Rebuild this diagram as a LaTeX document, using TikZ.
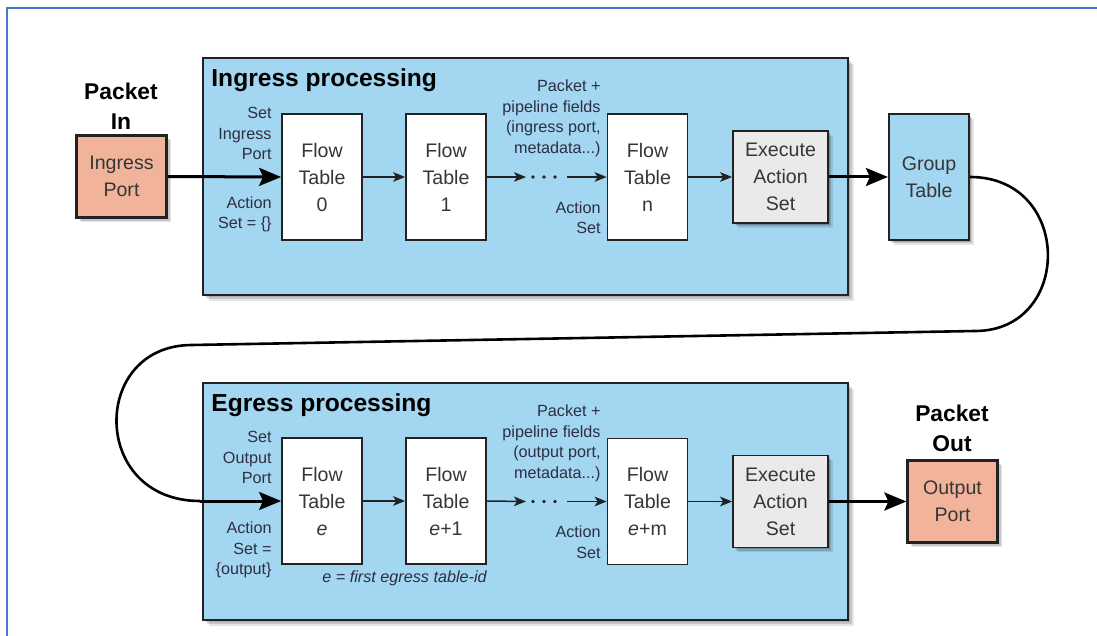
\documentclass[tikz,border=0pt]{standalone}
\usepackage{fontspec}
\setmainfont{Liberation Sans}
\usetikzlibrary{arrows.meta,shadows}

\definecolor{procblue}{HTML}{A3D6F0}
\definecolor{portred}{HTML}{F1B49B}
\definecolor{execgrey}{HTML}{EAEAEA}
\definecolor{maintxt}{HTML}{363636}
\definecolor{labeltxt}{HTML}{2E2E44}
\definecolor{framecol}{HTML}{4A78D0}
\definecolor{edgecol}{HTML}{222222}

\newcommand{\fsMain}{\fontsize{9.8}{13.5}\selectfont}
\newcommand{\fsLabel}{\fontsize{8.1}{10.25}\selectfont}
\newcommand{\fsHead}{\fontsize{11.4}{15}\selectfont\bfseries}
\newcommand{\fsTitle}{\fontsize{12.3}{14}\selectfont\bfseries}

\begin{document}
\begin{tikzpicture}[x=0.5pt,y=-0.5pt,
  % soft shadow built from stacked translucent copies
  boxshadow/.style={
    drop shadow={shadow xshift=0.8pt,shadow yshift=-0.8pt,opacity=0.14,fill=black},
    drop shadow={shadow xshift=1.6pt,shadow yshift=-1.6pt,opacity=0.14,fill=black},
    drop shadow={shadow xshift=2.4pt,shadow yshift=-2.4pt,opacity=0.10,fill=black}},
  stageshadow/.style={
    drop shadow={shadow xshift=1pt,shadow yshift=-1pt,opacity=0.14,fill=black},
    drop shadow={shadow xshift=2pt,shadow yshift=-2pt,opacity=0.14,fill=black},
    drop shadow={shadow xshift=3pt,shadow yshift=-3pt,opacity=0.10,fill=black}},
  stage/.style={draw=edgecol,line width=1.3pt,fill=procblue,inner sep=0pt,stageshadow,
    minimum width=322.5pt,minimum height=118.5pt},
  flowtab/.style={draw=edgecol,line width=0.9pt,fill=white,inner sep=0pt,
    minimum width=40pt,minimum height=63pt,align=center,font=\fsMain,text=maintxt},
  execbox/.style={draw=edgecol,line width=0.9pt,fill=execgrey,inner sep=0pt,boxshadow,
    minimum width=47.5pt,minimum height=46pt,align=center,font=\fsMain,text=maintxt},
  groupbox/.style={draw=edgecol,line width=1.1pt,fill=procblue,inner sep=0pt,boxshadow,
    minimum width=40pt,minimum height=63pt,align=center,font=\fsMain,text=maintxt},
  portbox/.style={draw=edgecol,line width=1.1pt,fill=portred,inner sep=0pt,boxshadow,
    minimum width=45pt,minimum height=41pt,align=center,font=\fsMain,text=maintxt},
  heading/.style={align=center,font=\fsHead,text=black,inner sep=0pt},
  stagetitle/.style={anchor=west,font=\fsTitle,text=black,inner sep=0pt},
  note/.style={anchor=east,align=right,font=\fsLabel,text=labeltxt,inner sep=0pt},
  thin/.style={draw=edgecol,line width=0.75pt,-{Stealth[length=6pt,width=4.8pt,inset=1.5pt]}},
  thick/.style={draw=black,line width=1.5pt,-{Stealth[length=11pt,width=9pt,inset=2pt]}},
  loopline/.style={draw=black,line width=1.3pt}
]
\useasboundingbox (0,0) rectangle (1097,636);

% page frame
\draw[framecol,line width=1.2pt] (7,636) -- (7,8) -- (1097,8);

% processing stages
\node[stage] (ingress) at (525.5,176.5) {};
\node[stage] (egress) at (525.5,501.5) {};
\node[stagetitle] (ingtitle) at (211,80) {Ingress processing};
\node[stagetitle] (egrtitle) at (211,405) {Egress processing};

% ingress pipeline
\node[heading] (pin) at (121,106) {Packet\\In};
\node[portbox] (inport) at (121.5,176.5) {Ingress\\Port};
\node[flowtab] (ft0) at (322,177) {Flow\\Table\\0};
\node[flowtab] (ft1) at (446,177) {Flow\\Table\\1};
\node[flowtab] (ftn) at (647.5,177) {Flow\\Table\\n};
\node[execbox] (exin) at (780.5,177) {Execute\\Action\\Set};
\node[groupbox] (grp) at (929,177) {Group\\Table};

\node[note] (setin) at (272,133.5) {Set\\Ingress\\Port};
\node[note] (actin) at (272,214.5) {Action\\Set = \{\}};
\node[note] (fieldsin) at (601,118.5) {Packet +\\pipeline fields\\(ingress port,\\metadata...)};
\node[note] (actn) at (601,217.5) {Action\\Set};

% egress pipeline
\node[heading] (pout) at (952,428.5) {Packet\\Out};
\node[flowtab] (fte) at (322,501) {Flow\\Table\\\textit{e}};
\node[flowtab] (fte1) at (446,501) {Flow\\Table\\\textit{e}+1};
\node[flowtab] (ftem) at (647.5,501.5) {Flow\\Table\\\textit{e}+m};
\node[execbox] (exout) at (780.5,501.5) {Execute\\Action\\Set};
\node[portbox] (outport) at (952.5,501.5) {Output\\Port};

\node[note] (setout) at (272,457.5) {Set\\Output\\Port};
\node[note] (actout) at (272,550) {Action\\Set =\\\{output\}};
\node[note] (fieldsout) at (601,443.5) {Packet +\\pipeline fields\\(output port,\\metadata...)};
\node[note] (actm) at (601,542) {Action\\Set};
\node[anchor=west,font=\fsLabel\itshape,text=labeltxt,inner sep=0pt] (eid) at (322,578) {e = first egress table-id};

% ellipsis between tables
\coordinate (dotsA) at (526,177);
\coordinate (dotsB) at (567,177);
\coordinate (dotsC) at (526,501.5);
\coordinate (dotsD) at (567,501.5);
\foreach \x in {533,544,555} {
  \fill[edgecol] (\x,177) circle[radius=1.9];
  \fill[edgecol] (\x,501.5) circle[radius=1.9];
}

% connectors, ingress
\draw[thick] (inport.east) -- (ft0.west);
\draw[thin] (ft0.east) -- (ft1.west);
\draw[thin] (ft1.east) -- (dotsA);
\draw[thin] (dotsB) -- (ftn.west);
\draw[thin] (ftn.east) -- (exin.west);
\draw[thick] (exin.east) -- (grp.west);

% loop from the group table back to the egress pipeline
\coordinate (loopR) at (975,331);
\coordinate (loopL) at (192,345);
\coordinate (loopE) at (200,501);
\draw[loopline] (grp.east) .. controls (1073,177) and (1073,331) .. (loopR) -- (loopL)
  .. controls (90,345) and (90,501) .. (loopE);
\draw[thick] (loopE) -- (fte.west);

% connectors, egress
\draw[thin] (fte.east) -- (fte1.west);
\draw[thin] (fte1.east) -- (dotsC);
\draw[thin] (dotsD) -- (ftem.west);
\draw[thin] (ftem.east) -- (exout.west);
\draw[thick] (exout.east) -- (outport.west);
\end{tikzpicture}
\end{document}
